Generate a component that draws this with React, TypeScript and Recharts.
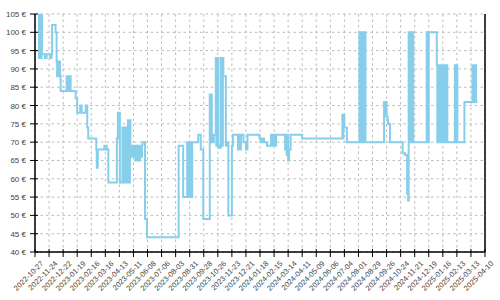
import { LineChart, Line, XAxis, YAxis, CartesianGrid, ReferenceLine } from "recharts";

// price history (step chart, value holds until next date)
const priceDates = [
  "2022-11-03", "2022-11-04", "2022-11-05", "2022-11-06", "2022-11-07", "2022-11-08", "2022-11-09", "2022-11-10",
  "2022-11-16", "2022-11-19", "2022-11-26", "2022-11-29", "2022-11-30", "2022-12-07",
  "2022-12-09", "2022-12-10", "2022-12-11", "2022-12-12", "2022-12-13", "2022-12-14", "2022-12-15", "2022-12-16", "2022-12-17",
  "2022-12-29", "2022-12-30", "2022-12-31", "2023-01-02", "2023-01-03", "2023-01-06",
  "2023-01-16", "2023-01-19", "2023-01-25", "2023-01-28", "2023-02-05", "2023-02-08", "2023-02-10",
  "2023-02-26", "2023-02-27", "2023-03-01", "2023-03-14", "2023-03-16", "2023-03-17", "2023-03-19", "2023-03-22",
  "2023-04-08", "2023-04-10", "2023-04-14", "2023-04-19", "2023-04-20", "2023-04-21", "2023-04-22", "2023-04-23", "2023-04-24", "2023-04-25", "2023-04-26",
  "2023-04-30", "2023-05-01", "2023-05-02", "2023-05-03", "2023-05-04",
  "2023-05-05", "2023-05-06", "2023-05-07", "2023-05-08", "2023-05-09", "2023-05-10", "2023-05-11", "2023-05-12", "2023-05-13", "2023-05-14", "2023-05-15",
  "2023-05-17", "2023-05-18", "2023-05-19", "2023-05-20", "2023-05-21", "2023-05-22", "2023-05-24", "2023-05-25", "2023-05-26", "2023-05-27", "2023-05-28", "2023-05-29",
  "2023-06-03", "2023-06-07", "2023-08-09", "2023-08-18",
  "2023-08-26", "2023-08-27", "2023-08-28", "2023-08-29", "2023-08-30", "2023-08-31", "2023-09-01", "2023-09-02", "2023-09-03", "2023-09-04", "2023-09-05",
  "2023-09-17", "2023-09-22", "2023-09-27", "2023-10-10", "2023-10-14", "2023-10-18",
  "2023-10-22", "2023-10-23", "2023-10-24", "2023-10-25", "2023-10-26", "2023-10-27", "2023-10-28",
  "2023-11-01", "2023-11-02", "2023-11-03", "2023-11-04", "2023-11-05", "2023-11-06", "2023-11-11", "2023-11-13", "2023-11-16", "2023-11-23", "2023-11-25",
  "2023-12-05", "2023-12-06", "2023-12-07", "2023-12-09", "2023-12-10", "2023-12-11", "2023-12-16", "2023-12-21", "2023-12-24",
  "2024-01-17", "2024-01-19", "2024-01-21", "2024-01-23", "2024-01-25", "2024-01-26", "2024-02-01",
  "2024-02-09", "2024-02-10", "2024-02-12", "2024-02-13", "2024-02-15", "2024-02-17", "2024-02-19",
  "2024-03-08", "2024-03-09", "2024-03-10", "2024-03-11", "2024-03-12", "2024-03-14", "2024-03-16", "2024-03-19", "2024-04-11",
  "2024-06-30", "2024-07-01", "2024-07-02", "2024-07-04", "2024-07-09",
  "2024-08-03", "2024-08-05", "2024-08-06", "2024-08-07", "2024-08-08", "2024-08-09", "2024-08-10", "2024-08-11", "2024-08-12", "2024-08-13", "2024-08-14", "2024-08-15",
  "2024-09-21", "2024-09-22", "2024-09-23", "2024-09-24", "2024-09-25", "2024-09-26", "2024-09-28", "2024-09-29", "2024-10-03",
  "2024-10-28", "2024-11-02", "2024-11-06", "2024-11-07", "2024-11-08",
  "2024-11-09", "2024-11-10", "2024-11-11", "2024-11-12", "2024-11-13", "2024-11-14", "2024-11-15", "2024-11-16", "2024-11-17", "2024-11-18",
  "2024-12-15", "2024-12-16", "2024-12-17", "2024-12-18", "2024-12-19",
  "2025-01-04", "2025-01-05", "2025-01-06", "2025-01-07", "2025-01-08", "2025-01-09", "2025-01-10", "2025-01-11", "2025-01-12", "2025-01-13", "2025-01-14", "2025-01-15", "2025-01-16", "2025-01-17", "2025-01-18", "2025-01-19",
  "2025-01-21", "2025-01-22", "2025-01-23", "2025-01-25", "2025-02-09", "2025-02-10", "2025-02-11", "2025-02-14", "2025-02-28",
  "2025-03-16", "2025-03-17", "2025-03-18", "2025-03-19", "2025-03-20", "2025-03-21", "2025-03-22", "2025-03-23", "2025-03-26",
];

const prices = [
  105, 93, 105, 93, 105, 93, 105, 94,
  93, 94, 93, 94, 102, 100,
  92, 88, 92, 88, 92, 88, 92, 88, 84,
  88, 84, 88, 84, 88, 84,
  82, 78, 80, 78, 80, 74, 71,
  68, 63, 68, 69, 68, 69, 68, 59,
  71, 78, 59, 74, 59, 74, 59, 74, 59, 74, 59,
  76, 59, 76, 59, 76,
  69, 66, 69, 66, 69, 66, 69, 66, 69, 66, 65,
  69, 65, 69, 66, 69, 65, 69, 66, 69, 66, 69, 70,
  49, 44, 69, 55,
  70, 55, 70, 55, 70, 55, 70, 55, 70, 55, 70,
  72, 68, 49, 83, 70, 72,
  93, 69, 93, 69, 93, 69, 68.5,
  93, 69, 93, 69, 93, 88, 69, 70, 50, 69, 72,
  68, 72, 68, 72, 68, 72, 70, 68, 72,
  71, 70, 71, 70, 71, 70, 69,
  72, 69, 72, 69, 72, 69, 72,
  68, 72, 68, 66.5, 72, 65, 68, 72, 71,
  77.5, 71, 77.5, 74, 70,
  100, 70, 100, 70, 100, 70, 100, 70, 100, 70, 100, 70,
  81, 77, 81, 77, 81, 77, 76, 75, 70,
  67, 66.5, 56, 66.5, 54,
  100, 70, 100, 70, 100, 70, 100, 70, 100, 70,
  100, 70, 100, 70, 100,
  91, 70, 91, 70, 91, 70, 91, 70, 91, 70, 91, 70, 91, 70, 91, 70,
  91, 70, 91, 70, 91, 70, 91, 70, 81,
  91, 81, 91, 81, 91, 81, 91, 81, 81,
];

const xTickDates = [
  "2022-10-27", "2022-11-24", "2022-12-22", "2023-01-19", "2023-02-16", "2023-03-16", "2023-04-13",
  "2023-05-11", "2023-06-08", "2023-07-06", "2023-08-03", "2023-08-31", "2023-09-28", "2023-10-26",
  "2023-11-23", "2023-12-21", "2024-01-18", "2024-02-15", "2024-03-14", "2024-04-11", "2024-05-09",
  "2024-06-06", "2024-07-04", "2024-08-01", "2024-08-29", "2024-09-26", "2024-10-24", "2024-11-21",
  "2024-12-19", "2025-01-16", "2025-02-13", "2025-03-13", "2025-04-10",
];

const yTicks = [40, 45, 50, 55, 60, 65, 70, 75, 80, 85, 90, 95, 100, 105];

const FONT = "'Liberation Sans', Arial, sans-serif";

const chartData = priceDates.map((d, i) => ({ t: Date.parse(d), price: prices[i] }));
const xTicks = xTickDates.map((d) => Date.parse(d));
const xStart = xTicks[0];
const xEnd = xTicks[xTicks.length - 1];

const XTick = (props: any) => {
  const { x, y, payload } = props;
  const label = new Date(payload.value).toISOString().slice(0, 10);
  const tx = x + 9;
  const ty = y + 12;
  return (
    <g>
      <line x1={x} x2={x} y1={y - 3} y2={y + 5} stroke="#000" />
      <text x={tx} y={ty} textAnchor="end" transform={`rotate(-45 ${tx} ${ty})`} fontSize={7.5} fontFamily={FONT} fill="#444">
        {label}
      </text>
    </g>
  );
};

const YTick = (props: any) => {
  const { x, y, payload } = props;
  return (
    <g>
      <line x1={x - 5} x2={x + 3} y1={y} y2={y} stroke="#000" />
      <text x={x - 9} y={y} dy={3} textAnchor="end" fontSize={8} fontFamily={FONT} fill="#444">
        {`${payload.value} €`}
      </text>
    </g>
  );
};

export default function App() {
  return (
    <div style={{ position: "absolute", left: 0, top: 0 }}>
      <LineChart width={500} height={300} data={chartData} margin={{ top: 14, right: 15, bottom: 0, left: 0 }}>
        <CartesianGrid stroke="#bbb" strokeDasharray="2.5 3" />
        <XAxis
          dataKey="t"
          type="number"
          domain={[xStart, xEnd]}
          ticks={xTicks}
          interval={0}
          height={48}
          tickSize={0}
          tickMargin={0}
          tickLine={false}
          axisLine={{ stroke: "#000", strokeWidth: 1.5 }}
          tick={<XTick />}
          allowDataOverflow
        />
        <YAxis
          domain={[40, 105]}
          ticks={yTicks}
          interval={0}
          width={35}
          tickSize={0}
          tickMargin={0}
          tickLine={false}
          axisLine={{ stroke: "#000", strokeWidth: 1.5 }}
          tick={<YTick />}
          allowDataOverflow
        />
        <ReferenceLine x={xEnd} stroke="#000" strokeWidth={1.5} />
        <Line
          type="stepAfter"
          dataKey="price"
          stroke="#87ceeb"
          strokeWidth={2}
          dot={false}
          isAnimationActive={false}
        />
      </LineChart>
    </div>
  );
}
